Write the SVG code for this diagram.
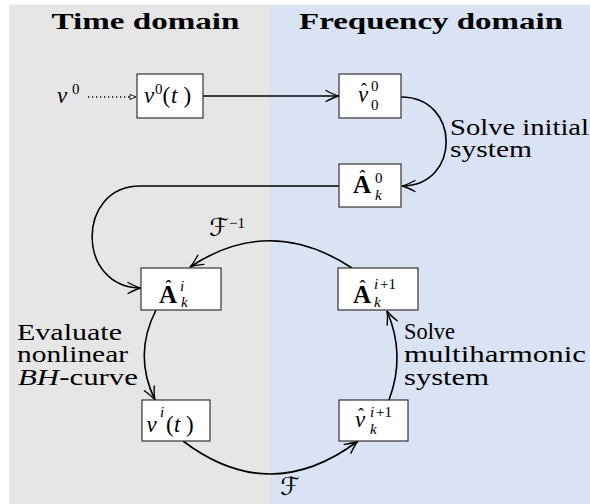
<svg xmlns="http://www.w3.org/2000/svg" width="590" height="504" viewBox="0 0 590 504">
  <style>
    text { font-family: "Liberation Serif", "DejaVu Serif", serif; fill: #000; }
    .title { font-size: 24px; font-weight: bold; }
    .lbl { font-size: 23px; }
    .math { font-size: 23px; }
    .m { font-style: italic; }
    .bA { font-size: 25px; font-weight: bold; }
    .hat { font-size: 18px; font-style: normal; font-weight: normal; }
    .s { font-size: 15px; }
    .cal { font-family: "DejaVu Serif", "DejaVu Sans", serif; font-size: 25px; font-style: italic; }
    .box { fill: #fff; stroke: #333; stroke-width: 1.2; }
    .edge { fill: none; stroke: #000; stroke-width: 1.6; }
  </style>
  <defs>
    <marker id="to" markerUnits="userSpaceOnUse" orient="auto" overflow="visible" markerWidth="20" markerHeight="20" refX="0" refY="0">
      <path d="M-13,-5.5 Q-5,-1.2 0,0 Q-5,1.2 -13,5.5" fill="none" stroke="#000" stroke-width="1.4" stroke-linecap="round"/>
    </marker>
    <marker id="tri" markerUnits="userSpaceOnUse" orient="auto" overflow="visible" markerWidth="10" markerHeight="10" refX="0" refY="0">
      <path d="M-6,-2.5 L0,0 L-6,2.5 Z" fill="#fff" stroke="#000" stroke-width="0.9"/>
    </marker>
  </defs>

  <!-- domain panels -->
  <rect x="9" y="4.5" width="261" height="499.5" fill="#e6e6e6"/>
  <rect x="270" y="4.5" width="320" height="499.5" fill="#dae3f3"/>
  <text class="title" x="51.5" y="29" textLength="188" lengthAdjust="spacingAndGlyphs">Time domain</text>
  <text class="title" x="299" y="29" textLength="264" lengthAdjust="spacingAndGlyphs">Frequency domain</text>

  <!-- connectors -->
  <g id="connectors">
    <path class="edge" d="M88,97 L136,97" stroke-width="1" stroke-dasharray="1.2 2.8" marker-end="url(#tri)"/>
    <path class="edge" d="M203,96 L339,96" marker-end="url(#to)"/>
    <path class="edge" d="M401,97 C461,97 461,186 402,186" marker-end="url(#to)"/>
    <path class="edge" d="M339,186 L140,186 C76,186 76,288 141,288" marker-end="url(#to)"/>
    <path class="edge" d="M352,268 Q270,214 190,267" marker-end="url(#to)"/>
    <path class="edge" d="M156,310 Q133,355 155,400" marker-end="url(#to)"/>
    <path class="edge" d="M183,441 Q270,507 358,441" marker-end="url(#to)"/>
    <path class="edge" d="M389,400 Q406,355 387,311" marker-end="url(#to)"/>
  </g>

  <!-- edge labels -->
  <g id="labels">
    <text class="math"><tspan class="m" x="57" y="103">ν</tspan><tspan class="s" x="72" y="94">0</tspan></text>
    <text class="lbl" x="450" y="135" textLength="139" lengthAdjust="spacingAndGlyphs">Solve initial</text>
    <text class="lbl" x="450" y="157" textLength="82" lengthAdjust="spacingAndGlyphs">system</text>
    <text class="lbl" x="17" y="340" textLength="105" lengthAdjust="spacingAndGlyphs">Evaluate</text>
    <text class="lbl" x="17" y="362" textLength="111" lengthAdjust="spacingAndGlyphs">nonlinear</text>
    <text class="lbl" x="18" y="385" textLength="120" lengthAdjust="spacingAndGlyphs"><tspan font-style="italic">BH</tspan>-curve</text>
    <text class="lbl" x="404" y="339" textLength="51" lengthAdjust="spacingAndGlyphs">Solve</text>
    <text class="lbl" x="404" y="362" textLength="182" lengthAdjust="spacingAndGlyphs">multiharmonic</text>
    <text class="lbl" x="404" y="385" textLength="85" lengthAdjust="spacingAndGlyphs">system</text>
    <text class="math"><tspan class="cal" x="209" y="236">ℱ</tspan><tspan class="s" x="229" y="228">−1</tspan></text>
    <text class="cal" x="280" y="495">ℱ</text>
  </g>

  <!-- nodes -->
  <g id="nu0t">
    <rect class="box" x="137" y="74" width="66" height="44"/>
    <text class="math"><tspan class="m" x="144" y="103">ν</tspan><tspan class="s" x="155" y="94">0</tspan><tspan x="162.5" y="103">(</tspan><tspan class="m" x="171" y="103">t</tspan><tspan x="183.5" y="103">)</tspan></text>
  </g>
  <g id="nuhat00">
    <rect class="box" x="339" y="74" width="62" height="44"/>
    <text class="math"><tspan class="m" x="358" y="102">ν</tspan><tspan class="hat" x="361" y="96">ˆ</tspan><tspan class="s" x="371" y="91">0</tspan><tspan class="s" x="371" y="110">0</tspan></text>
  </g>
  <g id="Ahat0">
    <rect class="box" x="339" y="164" width="62" height="43"/>
    <text class="math"><tspan class="bA" x="353" y="193">A</tspan><tspan class="hat" x="359.5" y="183">ˆ</tspan><tspan class="s" x="375" y="183">0</tspan><tspan class="s m" x="375" y="200">k</tspan></text>
  </g>
  <g id="Ahati">
    <rect class="box" x="141" y="268" width="80" height="42"/>
    <text class="math"><tspan class="bA" x="159" y="303">A</tspan><tspan class="hat" x="165.5" y="293">ˆ</tspan><tspan class="s m" x="180" y="291">i</tspan><tspan class="s m" x="181" y="307">k</tspan></text>
  </g>
  <g id="Ahati1">
    <rect class="box" x="338" y="268" width="80" height="42"/>
    <text class="math"><tspan class="bA" x="353" y="303">A</tspan><tspan class="hat" x="359.5" y="293">ˆ</tspan><tspan class="s m" x="374" y="289">i</tspan><tspan class="s" x="380" y="289">+1</tspan><tspan class="s m" x="374" y="307">k</tspan></text>
  </g>
  <g id="nuit">
    <rect class="box" x="142" y="400" width="68" height="41"/>
    <text class="math"><tspan class="m" x="146.5" y="432">ν</tspan><tspan class="s m" x="160" y="417">i</tspan><tspan x="166" y="432">(</tspan><tspan class="m" x="174" y="432">t</tspan><tspan x="186" y="432">)</tspan></text>
  </g>
  <g id="nuhati1">
    <rect class="box" x="339" y="400" width="69" height="41"/>
    <text class="math"><tspan class="m" x="355" y="427">ν</tspan><tspan class="hat" x="358" y="421">ˆ</tspan><tspan class="s m" x="370" y="417">i</tspan><tspan class="s" x="376" y="417">+1</tspan><tspan class="s m" x="370" y="434">k</tspan></text>
  </g>
</svg>
